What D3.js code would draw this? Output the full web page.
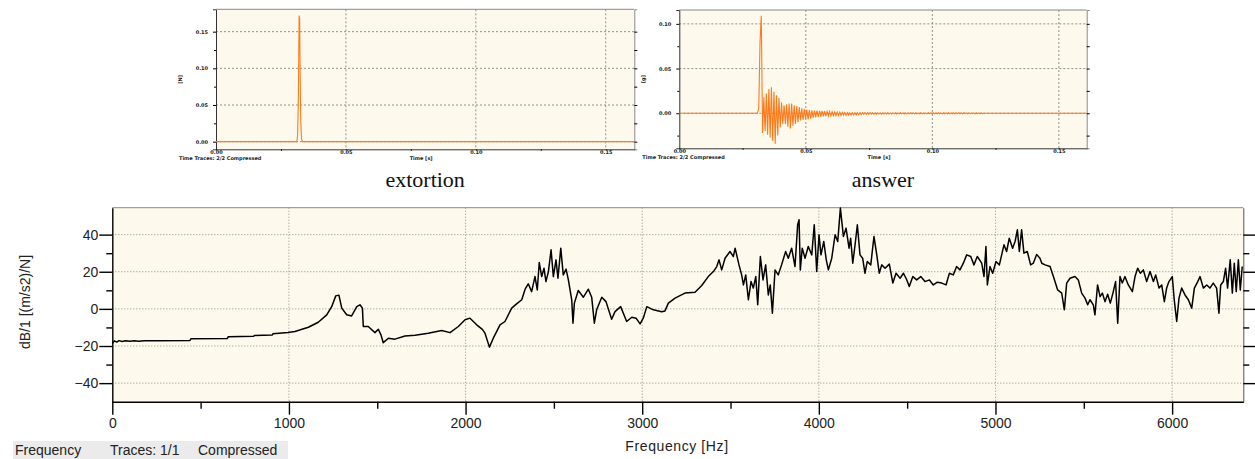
<!DOCTYPE html>
<html>
<head>
<meta charset="utf-8">
<script src="https://cdn.jsdelivr.net/npm/d3@7"></script>
<style>
body { margin: 0; background: #fff; }
svg { display: block; font-family: "Liberation Sans", Arial, sans-serif; }
</style>
</head>
<body>
<svg></svg>
<script>
// frequency response (bottom)
const freqHz = [0, 12, 25, 38, 55, 75, 100, 125, 150, 180, 250, 440, 445, 650, 657, 800, 805, 905, 910, 995,
    1034, 1110, 1166, 1214, 1242, 1265, 1283, 1299, 1327, 1355, 1384, 1402, 1416, 1421, 1449, 1487, 1506, 1521, 1534, 1563,
    1600, 1657, 1714, 1789, 1865, 1912, 1959, 1997, 2025, 2063, 2095, 2110, 2135, 2157, 2195, 2223, 2261, 2289, 2318, 2337,
    2355, 2374, 2393, 2406, 2417, 2431, 2444, 2455, 2469, 2484, 2497, 2512, 2523, 2539, 2553, 2569, 2582, 2601, 2608, 2616,
    2638, 2667, 2695, 2714, 2729, 2742, 2771, 2795, 2827, 2846, 2878, 2912, 2941, 2965, 2988, 3006, 3026, 3063, 3110, 3129,
    3148, 3186, 3242, 3299, 3337, 3374, 3403, 3422, 3435, 3450, 3469, 3497, 3516, 3526, 3548, 3563, 3573, 3586, 3601, 3616,
    3629, 3643, 3654, 3669, 3684, 3699, 3714, 3725, 3737, 3752, 3770, 3789, 3812, 3827, 3846, 3865, 3880, 3888, 3895, 3906,
    3922, 3940, 3960, 3974, 3988, 4001, 4012, 4028, 4042, 4054, 4073, 4092, 4107, 4122, 4139, 4154, 4171, 4180, 4192, 4205,
    4218, 4233, 4248, 4261, 4274, 4294, 4312, 4328, 4342, 4356, 4375, 4399, 4419, 4437, 4460, 4479, 4498, 4512, 4532, 4554,
    4577, 4601, 4626, 4648, 4671, 4696, 4720, 4739, 4761, 4780, 4799, 4818, 4837, 4860, 4878, 4897, 4922, 4935, 4946, 4954,
    4969, 4984, 5003, 5022, 5035, 5048, 5063, 5078, 5097, 5111, 5124, 5135, 5148, 5161, 5180, 5199, 5214, 5233, 5252, 5262,
    5281, 5309, 5328, 5352, 5375, 5390, 5403, 5422, 5450, 5469, 5488, 5507, 5522, 5535, 5554, 5563, 5578, 5592, 5605, 5620,
    5635, 5650, 5665, 5680, 5692, 5705, 5718, 5733, 5752, 5775, 5790, 5805, 5820, 5837, 5856, 5875, 5894, 5907, 5926, 5941,
    5956, 5969, 5982, 6001, 6012, 6026, 6039, 6054, 6073, 6092, 6111, 6126, 6145, 6158, 6177, 6196, 6214, 6233, 6252, 6265,
    6275, 6290, 6303, 6314, 6329, 6341, 6352, 6363, 6375, 6386, 6397];
const frfDb = [-18.7, -17.2, -17.9, -17.1, -17.6, -17.2, -17.5, -17.2, -17.5, -17.2, -17.2, -17.0, -16.1, -16.0, -15.0, -14.8, -14.3, -14.1, -13.4, -12.7,
    -12.2, -9.9, -7.2, -3.2, 1.2, 7.0, 7.4, 0.4, -3.2, -3.8, 1.2, 2.2, 0.4, -9.5, -9.5, -12.8, -11.0, -14.0, -18.2, -15.8,
    -16.3, -14.6, -14.2, -13.1, -11.7, -12.8, -9.5, -5.9, -5.0, -8.6, -11.0, -13.1, -20.6, -15.8, -8.6, -6.8, 0.4, 2.7, 4.9, 10.6,
    13.5, 9.3, 17.4, 10.2, 25.0, 17.4, 21.9, 14.7, 20.1, 31.8, 17.4, 26.4, 16.5, 32.7, 18.3, 21.4, 15.6, 4.9, -7.7, 3.1,
    9.9, 6.3, 10.6, 6.3, -7.7, -0.5, 6.3, 3.9, -5.6, -1.5, 1.2, -6.8, -4.5, -5.0, -8.1, -5.0, 1.2, -0.5, -1.5, -1.1,
    3.1, 5.8, 8.5, 9.0, 12.6, 17.4, 20.1, 22.8, 26.4, 21.0, 27.3, 30.9, 28.2, 32.7, 23.7, 18.3, 12.9, 18.3, 4.9, 14.7,
    11.2, 17.4, 2.2, 28.2, 15.6, 23.7, 7.5, 12.9, -2.3, 21.0, 18.3, 23.7, 30.9, 27.3, 32.7, 22.8, 45.3, 48.0, 20.9, 32.7,
    27.3, 33.6, 29.1, 45.3, 20.1, 39.9, 29.1, 36.3, 26.4, 21.0, 27.3, 39.9, 36.3, 54.3, 39.0, 43.5, 32.7, 38.1, 24.6, 34.5,
    45.3, 29.1, 27.3, 19.2, 25.5, 23.7, 39.0, 29.1, 19.2, 23.7, 21.9, 24.1, 13.9, 19.2, 16.5, 19.2, 15.6, 12.0, 17.4, 15.6,
    17.4, 14.7, 15.6, 12.9, 14.4, 13.9, 12.9, 19.2, 18.3, 22.8, 21.0, 24.6, 29.1, 28.2, 23.7, 28.2, 24.6, 17.4, 33.6, 12.9,
    22.8, 19.2, 25.5, 23.7, 29.1, 34.5, 30.9, 38.1, 32.7, 36.3, 42.6, 30.9, 42.6, 30.0, 30.9, 23.7, 24.6, 29.3, 27.3, 24.6,
    23.7, 22.8, 17.4, 10.2, 8.5, -0.5, 13.9, 16.5, 17.4, 15.6, 8.5, 5.8, 2.2, 4.9, 2.2, -3.2, 12.9, 6.6, 8.5, 3.9,
    7.9, 3.1, 8.5, 14.7, -7.7, 17.4, 13.9, 17.4, 12.9, 9.3, 17.4, 21.9, 19.2, 21.0, 14.7, 20.1, 14.7, 18.3, 11.2, 12.9,
    3.9, 11.2, 14.7, 17.4, 4.9, -6.8, 5.8, 11.2, 7.5, 4.9, 0.4, 11.2, 14.7, 17.4, 11.2, 12.9, 11.2, 13.9, 11.2, -2.3,
    12.9, 14.7, 21.9, 11.2, 26.4, 8.5, 24.6, 9.3, 26.4, 10.2, 22.8];
const freqTicks = [0, 1000, 2000, 3000, 4000, 5000, 6000];
const freqMinorTicks = [500, 1500, 2500, 3500, 4500, 5500];
const dbTicks = [-40, -20, 0, 20, 40];
const dbMinorTicks = [-30, -10, 10, 30];

// hammer pulse (top left)
const pulseTime = [0, 0.0311, 0.0314, 0.0317, 0.0320, 0.0322, 0.0324, 0.0326, 0.0329, 0.0333, 0.161];
const pulseForce = [0, 0, 0.008, 0.06, 0.172, 0.168, 0.09, 0.03, 0.004, 0, 0];

// response (top right), sampled every 0.5 ms from 30.9 ms
const responseStart = 0.0309;
const responseStep = 0.0005;
const responseValues = [0, 0.006, 0.080, 0.109, -0.022, 0.018, -0.020, 0.022, -0.024, 0.027,
    -0.027, 0.029, -0.031, 0.024, -0.034, 0.020, -0.025, 0.017, -0.016, 0.012,
    -0.012, 0.009, -0.012, 0.010, -0.015, 0.011, -0.017, 0.011, -0.014, 0.009,
    -0.012, 0.008, -0.010, 0.007, -0.008, 0.0055, -0.0075, 0.005, -0.007, 0.004,
    -0.0068, 0.0037, -0.006, 0.0033, -0.005, 0.003, -0.0045, 0.003, -0.004, 0.0028,
    -0.0038, 0.0026, -0.0036, 0.0024, -0.0033, 0.002, -0.003, 0.0019, -0.0029, 0.0017,
    -0.0027, 0.0015, -0.0026, 0.0013, -0.0024, 0.0011, -0.0023, 0.0009, -0.0022, 0.0008,
    -0.0022, 0.0006, -0.002, 0.0005, -0.002, 0.0004, -0.0019, 0.0004, -0.0018, 0.0005,
    -0.0016, 0.0006, -0.0014, 0.0007, -0.0012, 0.0007, -0.0011, 0.0007, -0.0011, 0.0006,
    -0.001, 0.0005, -0.0011, 0.0004, -0.001, 0.0005, -0.0009, 0.0004, -0.001, 0.0005,
    -0.0009, 0.0004, -0.0008, 0.0005, -0.0009, 0.0004, -0.0008, 0.0004, -0.0007, 0.0005,
    -0.0008, 0.0004, -0.0007, 0.0005, -0.0007, 0.0004, -0.0008, 0.0005, -0.0007, 0.0004,
    -0.0007, 0.0005, -0.0006, 0.0004, -0.0007, 0.0005, -0.0007, 0.0004, -0.0006, 0.0005,
    -0.0007, 0.0004, -0.0006, 0.0004, -0.0007, 0.0005, -0.0006, 0.0004, -0.0006, 0.0005,
    -0.0007, 0.0004, -0.0006, 0.0005, -0.0006, 0.0004, -0.0007, 0.0005, -0.0006, 0.0004,
    -0.0006, 0.0005, -0.0007, 0.0004, -0.0006, 0.0005, -0.0006, 0.0004, -0.0005, 0.0005,
    -0.0006, 0.0004, -0.0006, 0.0005, -0.0005, 0.0004, -0.0006, 0.0004, -0.0005, 0.0004,
    -0.0005, 0.0004, -0.0006, 0.0004, -0.0005, 0.0004, -0.0005, 0.0003, -0.0004, 0];
const timeEnd = 0.161;

const timeTicks = [0, 0.05, 0.10, 0.15];
const timeMinorTicks = [0.025, 0.075, 0.125];
const forceTicks = [0, 0.05, 0.10, 0.15];
const forceMinorTicks = [0.025, 0.075, 0.125];
const accelTicks = [0, 0.05, 0.10];
const accelMinorTicks = [-0.025, 0.025, 0.075];

const width = 1255;
const height = 459;

const svg = d3.select('svg')
    .attr('width', width)
    .attr('height', height);

const plotFill = '#fdf9ec';

// ---------- small time charts ----------
function drawTimeChart(opts) {
    const g = svg.append('g');
    const x = d3.scaleLinear().domain([0, timeEnd]).range([opts.left, opts.right]);
    const y = d3.scaleLinear().domain(opts.yDomain).range([opts.bottom, opts.top]);

    g.append('rect')
        .attr('x', opts.left).attr('y', opts.top)
        .attr('width', opts.right - opts.left).attr('height', opts.bottom - opts.top)
        .attr('fill', plotFill);

    g.append('g').selectAll('line')
        .data(opts.yTicks)
        .join('line')
        .attr('x1', opts.left).attr('x2', opts.right)
        .attr('y1', d => y(d)).attr('y2', d => y(d))
        .attr('stroke', '#777').attr('stroke-width', 0.8).attr('stroke-dasharray', '2,2');

    g.append('g').selectAll('line')
        .data(timeTicks.filter(d => d > 0))
        .join('line')
        .attr('x1', d => x(d)).attr('x2', d => x(d))
        .attr('y1', opts.top).attr('y2', opts.bottom)
        .attr('stroke', '#777').attr('stroke-width', 0.8).attr('stroke-dasharray', '2,2');

    const tiny = sel => sel.selectAll('text')
        .attr('font-size', 5).attr('font-weight', 'bold').attr('fill', '#222')
        .attr('font-family', '"DejaVu Sans", sans-serif');

    g.append('g')
        .attr('transform', `translate(${opts.left},0)`)
        .call(d3.axisLeft(y).tickValues(opts.yTicks).tickSize(3).tickPadding(5).tickFormat(d3.format('.2f')))
        .call(tiny)
        .call(s => s.select('.domain').attr('stroke', '#333'));
    g.append('g')
        .attr('transform', `translate(${opts.left},0)`)
        .call(d3.axisLeft(y).tickValues(opts.yMinor).tickSize(2).tickFormat(''))
        .call(s => s.select('.domain').remove());
    g.append('g')
        .attr('transform', `translate(${opts.right},0)`)
        .call(d3.axisRight(y).tickValues(opts.yTicks.concat(opts.yMinor)).tickSize(3).tickFormat(''))
        .call(s => s.select('.domain').attr('stroke', '#888'));

    g.append('g')
        .attr('transform', `translate(0,${opts.bottom})`)
        .call(d3.axisBottom(x).tickValues(timeTicks).tickSize(1).tickPadding(0).tickFormat(d3.format('.2f')))
        .call(tiny)
        .call(s => s.select('.domain').attr('stroke', '#333'));
    g.append('g')
        .attr('transform', `translate(0,${opts.bottom})`)
        .call(d3.axisBottom(x).tickValues(timeMinorTicks).tickSize(1.5).tickFormat(''))
        .call(s => s.select('.domain').remove());

    g.append('line')
        .attr('x1', opts.left).attr('x2', opts.right)
        .attr('y1', opts.top).attr('y2', opts.top)
        .attr('stroke', '#888');

    g.append('path')
        .datum(opts.points)
        .attr('fill', 'none')
        .attr('stroke', '#ff7a1a')
        .attr('stroke-width', 1.1)
        .attr('d', d3.line().x(d => x(d[0])).y(d => y(d[1])));

    const small = g.append('g')
        .attr('font-size', 5).attr('font-weight', 'bold').attr('fill', '#222')
        .attr('font-family', '"DejaVu Sans", sans-serif');
    small.append('text').attr('x', opts.left - 37).attr('y', opts.bottom + 10.5).text(opts.footer);
    small.append('text').attr('x', (opts.left + opts.right) / 2 - 4).attr('y', opts.bottom + 10.5)
        .attr('text-anchor', 'middle').text('Time [s]');
    small.append('text')
        .attr('transform', `translate(${opts.left - 34},${(opts.top + opts.bottom) / 2}) rotate(-90)`)
        .attr('text-anchor', 'middle').text(opts.unit);

    svg.append('text')
        .attr('x', (opts.left + opts.right) / 2)
        .attr('y', 187)
        .attr('text-anchor', 'middle')
        .attr('font-family', '"Liberation Serif", "Times New Roman", serif')
        .attr('font-size', 22)
        .attr('fill', '#111')
        .text(opts.title);
}

drawTimeChart({
    left: 216, right: 634.3, top: 9.3, bottom: 149.3,
    yDomain: [-0.0104, 0.1805],
    yTicks: forceTicks, yMinor: forceMinorTicks,
    points: d3.zip(pulseTime, pulseForce),
    footer: 'Time   Traces: 2/2 Compressed',
    unit: '[N]',
    title: 'extortion'
});

drawTimeChart({
    left: 679.3, right: 1086.7, top: 10, bottom: 148.3,
    yDomain: [-0.0392, 0.1155],
    yTicks: accelTicks, yMinor: accelMinorTicks,
    points: [[0, 0]]
        .concat(responseValues.map((v, i) => [responseStart + i * responseStep, v]))
        .concat([[timeEnd, 0]]),
    footer: 'Time   Traces: 2/2 Compressed',
    unit: '[g]',
    title: 'answer'
});

// ---------- frequency response ----------
const x = d3.scaleLinear().domain([0, 6403]).range([112.3, 1243.3]);
const y = d3.scaleLinear().domain([-50, 54.5]).range([401.7, 207.7]);
const [x0, x1] = x.range();
const [y0, y1] = y.range();

const frf = svg.append('g');

frf.append('rect')
    .attr('x', x0).attr('y', y1)
    .attr('width', x1 - x0).attr('height', y0 - y1)
    .attr('fill', plotFill);

frf.append('g').selectAll('line')
    .data(dbTicks)
    .join('line')
    .attr('x1', x0).attr('x2', x1)
    .attr('y1', d => y(d)).attr('y2', d => y(d))
    .attr('stroke', '#8c8c8c').attr('stroke-dasharray', '1,2');

frf.append('g').selectAll('line')
    .data(freqTicks.filter(d => d > 0))
    .join('line')
    .attr('x1', d => x(d)).attr('x2', d => x(d))
    .attr('y1', y1).attr('y2', y0)
    .attr('stroke', '#8c8c8c').attr('stroke-dasharray', '1,2');

frf.append('line')
    .attr('x1', x0).attr('x2', x1).attr('y1', y1).attr('y2', y1)
    .attr('stroke', '#8a8a8a');

frf.append('path')
    .datum(d3.zip(freqHz, frfDb))
    .attr('fill', 'none')
    .attr('stroke', '#000')
    .attr('stroke-width', 1.5)
    .attr('stroke-linejoin', 'round')
    .attr('d', d3.line().x(d => x(d[0])).y(d => y(d[1])));

const labelStyle = sel => sel.selectAll('text')
    .attr('font-size', 14).attr('fill', '#222')
    .attr('font-family', '"Liberation Sans", Arial, sans-serif');

frf.append('g')
    .attr('transform', `translate(${x0},0)`)
    .call(d3.axisLeft(y).tickValues(dbTicks).tickSize(13).tickSizeOuter(0).tickPadding(1))
    .call(labelStyle)
    .call(s => s.selectAll('line,path').attr('stroke', '#000').attr('stroke-width', 1.4));
frf.append('g')
    .attr('transform', `translate(${x0},0)`)
    .call(d3.axisLeft(y).tickValues(dbMinorTicks).tickSize(6).tickFormat(''))
    .call(s => s.select('.domain').remove())
    .call(s => s.selectAll('line').attr('stroke-width', 1.4));

frf.append('g')
    .attr('transform', `translate(${x1},0)`)
    .call(d3.axisRight(y).tickValues(dbTicks).tickSize(12).tickSizeOuter(0).tickFormat(''))
    .call(s => s.select('.domain').attr('stroke', '#555'))
    .call(s => s.selectAll('line').attr('stroke-width', 1.4));
frf.append('g')
    .attr('transform', `translate(${x1},0)`)
    .call(d3.axisRight(y).tickValues(dbMinorTicks).tickSize(6).tickFormat(''))
    .call(s => s.select('.domain').remove())
    .call(s => s.selectAll('line').attr('stroke-width', 1.4));

frf.append('g')
    .attr('transform', `translate(0,${y0})`)
    .call(d3.axisBottom(x).tickValues(freqTicks).tickSize(13).tickSizeOuter(0).tickPadding(3).tickFormat(d3.format('d')))
    .call(labelStyle)
    .call(s => s.selectAll('line,path').attr('stroke', '#000').attr('stroke-width', 1.4));
frf.append('g')
    .attr('transform', `translate(0,${y0})`)
    .call(d3.axisBottom(x).tickValues(freqMinorTicks).tickSize(7).tickFormat(''))
    .call(s => s.select('.domain').remove())
    .call(s => s.selectAll('line').attr('stroke-width', 1.4));

svg.append('text')
    .attr('x', 677)
    .attr('y', 451)
    .attr('text-anchor', 'middle')
    .attr('font-size', 14)
    .attr('letter-spacing', 0.6)
    .attr('fill', '#222')
    .text('Frequency [Hz]');

svg.append('text')
    .attr('transform', 'translate(30,302) rotate(-90)')
    .attr('text-anchor', 'middle')
    .attr('font-size', 14)
    .attr('fill', '#222')
    .text('dB/1 [(m/s2)/N]');

// status strip
svg.append('rect')
    .attr('x', 13).attr('y', 441).attr('width', 275).attr('height', 18)
    .attr('fill', '#ebebeb');
const status = svg.append('text')
    .attr('y', 455)
    .attr('font-size', 14)
    .attr('fill', '#222');
status.append('tspan').attr('x', 15).text('Frequency');
status.append('tspan').attr('x', 110).text('Traces: 1/1');
status.append('tspan').attr('x', 198).text('Compressed');
</script>
</body>
</html>
